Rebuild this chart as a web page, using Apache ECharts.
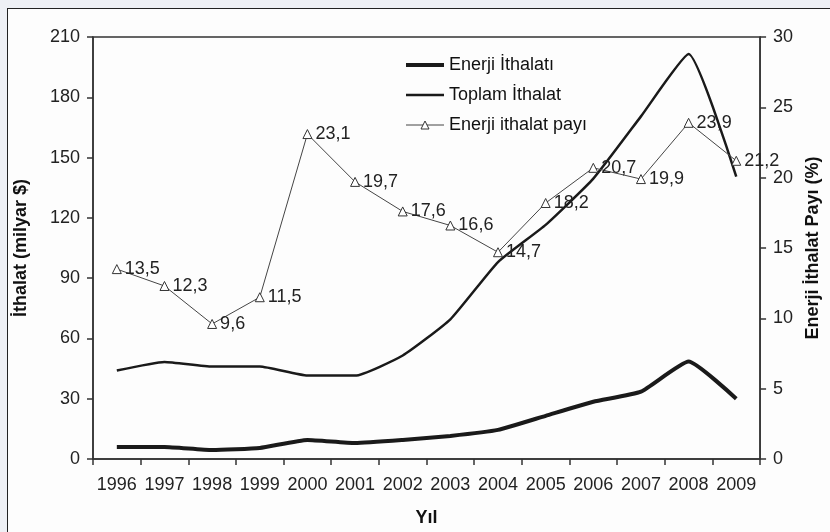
<!DOCTYPE html>
<html>
<head>
<meta charset="utf-8">
<script src="https://cdn.jsdelivr.net/npm/echarts@6/dist/echarts.min.js"></script>
<style>
  html, body { margin: 0; padding: 0; width: 830px; height: 532px; overflow: hidden; background: #eef0f5; }
  #frame { position: absolute; left: 7px; top: 8px; width: 840px; height: 540px; border: 1.5px solid #222; background: #fdfdfd; }
  #chart { position: absolute; left: 0; top: 0; width: 830px; height: 532px; }
</style>
</head>
<body>
<div id="frame"></div>
<div id="chart"></div>
<script>
const years = ['1996','1997','1998','1999','2000','2001','2002','2003','2004','2005','2006','2007','2008','2009'];
const energyImports = [6, 6, 4.5, 5.5, 9.5, 8, 9.5, 11.5, 14.5, 21.5, 28.5, 33.5, 48.5, 30];
const totalImports = [44, 48.3, 46, 46, 41.5, 41.5, 51.5, 69.5, 98, 116.5, 139.5, 170.5, 201.5, 140.5];
const energyShare = [13.5, 12.3, 9.6, 11.5, 23.1, 19.7, 17.6, 16.6, 14.7, 18.2, 20.7, 19.9, 23.9, 21.2];
const leftTicks = { min: 0, max: 210, interval: 30 };
const rightTicks = { min: 0, max: 30, interval: 5 };

const FONT = 'Liberation Sans, Arial, sans-serif';
const FS = 18;
const chart = echarts.init(document.getElementById('chart'), null, { renderer: 'canvas' });
const axisLine = { lineStyle: { color: '#333', width: 1.5 } };
const tick = { show: true, length: 6, lineStyle: { color: '#333', width: 1.5 } };
const nameStyle = { fontSize: FS, fontWeight: 'bold', color: '#111', fontFamily: FONT };
chart.setOption({
  backgroundColor: 'transparent',
  textStyle: { fontFamily: FONT },
  animation: false,
  grid: { left: 93, right: 67, top: 37, bottom: 73, show: true, borderColor: '#333', borderWidth: 1.5, backgroundColor: 'transparent' },
  legend: {
    orient: 'vertical', left: 399, top: 51, itemGap: 12, itemWidth: 38, itemHeight: 10,
    textStyle: { fontSize: FS, color: '#111', fontFamily: FONT },
    data: [
      { name: 'Enerji İthalatı', itemStyle: { opacity: 0 }, lineStyle: { width: 4, color: '#1a1a1a' } },
      { name: 'Toplam İthalat', itemStyle: { opacity: 0 }, lineStyle: { width: 2.5, color: '#1a1a1a' } },
      { name: 'Enerji ithalat payı', itemStyle: { color: '#fff', borderColor: '#333', borderWidth: 1 }, lineStyle: { width: 1, color: '#444' } }
    ]
  },
  xAxis: {
    type: 'category', data: years, boundaryGap: true,
    axisLine: axisLine, axisTick: tick,
    axisLabel: { fontSize: FS, color: '#222', margin: 17, interval: 0 },
    name: 'Yıl', nameLocation: 'middle', nameGap: 50, nameTextStyle: nameStyle
  },
  yAxis: [{
    type: 'value', position: 'left', min: leftTicks.min, max: leftTicks.max, interval: leftTicks.interval,
    axisLine: Object.assign({ show: true }, axisLine), axisTick: tick,
    axisLabel: { fontSize: FS, color: '#222', margin: 13 },
    splitLine: { show: false },
    name: 'İthalat (milyar $)', nameLocation: 'middle', nameGap: 63, nameRotate: 90, nameTextStyle: nameStyle
  }, {
    type: 'value', position: 'right', min: rightTicks.min, max: rightTicks.max, interval: rightTicks.interval,
    axisLine: Object.assign({ show: true }, axisLine), axisTick: tick,
    axisLabel: { fontSize: FS, color: '#222', margin: 13 },
    splitLine: { show: false },
    name: 'Enerji İthalat Payı (%)', nameLocation: 'middle', nameGap: 43, nameRotate: 90, nameTextStyle: nameStyle
  }],
  series: [{
    name: 'Enerji İthalatı', type: 'line', data: energyImports, yAxisIndex: 0,
    symbol: 'none', smooth: 0.15, color: '#1a1a1a',
    lineStyle: { width: 4, color: '#1a1a1a' }
  }, {
    name: 'Toplam İthalat', type: 'line', data: totalImports, yAxisIndex: 0,
    symbol: 'none', smooth: 0.15, color: '#1a1a1a',
    lineStyle: { width: 2.5, color: '#1a1a1a' }
  }, {
    name: 'Enerji ithalat payı', type: 'line', data: energyShare, yAxisIndex: 1,
    symbol: 'triangle', symbolSize: 9, color: '#444',
    lineStyle: { width: 1, color: '#444' },
    itemStyle: { color: '#fff', borderColor: '#333', borderWidth: 1 },
    label: {
      show: true, position: 'right', distance: 3, fontSize: FS, color: '#222',
      formatter: p => String(p.value).replace('.', ',')
    }
  }]
});
</script>
</body>
</html>
